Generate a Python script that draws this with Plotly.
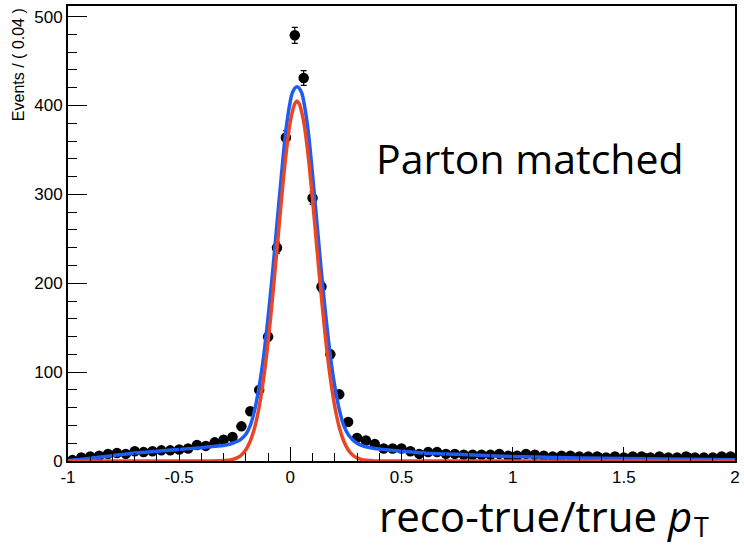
import plotly.graph_objects as go

# ---------------- data ----------------
bin_centers = [round(-0.98 + 0.04 * i, 2) for i in range(75)]
events = [1, 4, 5, 6, 8, 9, 8, 11, 10, 11, 12, 12, 13, 14, 18, 17, 21, 24, 27, 39,
          56, 80, 140, 240, 364, 479, 431, 296, 196, 120, 75, 44, 26, 23, 19, 14, 14, 14, 11, 8,
          10, 10, 8, 8, 7, 7, 7, 7, 8, 6, 6, 8, 7, 6, 5, 6, 6, 5, 5, 5,
          4, 5, 4, 5, 5, 4, 5, 4, 4, 5, 4, 4, 4, 5, 5]
# error bar half-lengths (only the peak ones stick out of the markers)
errors = [0.5, 0.8, 0.9, 1, 1.1, 1.2, 1.1, 1.3, 1.3, 1.3, 1.4, 1.4, 1.4, 1.5, 1.7, 1.6, 1.8, 2, 2.1, 2.5,
          3, 3.6, 4.7, 6.2, 7.6, 9, 8.3, 6.9, 5.6, 4.4, 3.5, 2.6, 2, 1.9, 1.7, 1.5, 1.5, 1.5, 1.3, 1.1,
          1.3, 1.3, 1.1, 1.1, 1, 1, 1, 1, 1.1, 1, 1, 1.1, 1, 1, 0.9, 1, 1, 0.9, 0.9, 0.9,
          0.8, 0.9, 0.8, 0.9, 0.9, 0.8, 0.9, 0.8, 0.8, 0.9, 0.8, 0.8, 0.8, 0.9, 0.9]

# full fit (blue)
blue_x = [-1.0, -0.9, -0.8, -0.7, -0.6, -0.5, -0.4, -0.34, -0.30, -0.28, -0.26, -0.24, -0.22, -0.20,
          -0.18, -0.16, -0.14, -0.12, -0.10, -0.08, -0.06, -0.04, -0.02, 0.0, 0.01, 0.03, 0.05, 0.06,
          0.08, 0.10, 0.12, 0.14, 0.16, 0.18, 0.20, 0.22, 0.24, 0.26, 0.28, 0.30, 0.32, 0.34, 0.38,
          0.42, 0.5, 0.6, 0.7, 0.8, 0.9, 1.0, 1.2, 1.4, 1.6, 1.8, 2.0]
blue_y = [0.5, 3, 6, 9, 11, 13, 15, 16.5, 17.5, 18.5, 20, 22, 25, 30,
          40, 58, 84, 118, 162, 212, 267, 322, 372, 405, 415, 421, 415, 405,
          372, 322, 267, 212, 162, 118, 84, 58, 40, 30, 24, 20, 17.5, 16, 14,
          13, 11, 9, 8, 7, 6, 5, 4, 3, 2.5, 2, 1.5]

# core Gaussian (red)
red_x = [-1.0, -0.5, -0.36, -0.32, -0.28, -0.26, -0.24, -0.22, -0.20, -0.18, -0.16, -0.14, -0.12,
         -0.10, -0.08, -0.06, -0.04, -0.02, 0.0, 0.02, 0.03, 0.04, 0.06, 0.08, 0.10, 0.12, 0.14,
         0.16, 0.18, 0.20, 0.22, 0.24, 0.26, 0.28, 0.30, 0.32, 0.34, 0.38, 0.5, 1.0, 1.5, 2.0]
red_y = [0, 0, 0.1, 0.3, 0.8, 1.7, 3.5, 6.8, 12.7, 22.5, 38, 61, 93,
         134, 184, 238, 294, 344, 382, 402, 405, 402, 382, 344, 294, 238, 184,
         134, 93, 61, 38, 22.5, 12.7, 6.8, 3.5, 1.7, 0.8, 0.1, 0, 0, 0, 0]

x_tick_vals = [-1, -0.5, 0, 0.5, 1, 1.5, 2]
x_tick_text = ["-1", "-0.5", "0", "0.5", "1", "1.5", "2"]
y_tick_vals = [0, 100, 200, 300, 400, 500]
y_tick_text = ["0", "100", "200", "300", "400", "500"]

fig = go.Figure()
fig.add_trace(go.Scatter(
    x=bin_centers, y=events, mode="markers",
    marker=dict(color="black", size=10.5),
    error_y=dict(type="data", array=errors, color="black", thickness=1.2, width=3),
    showlegend=False))
fig.add_trace(go.Scatter(
    x=blue_x, y=blue_y, mode="lines", line=dict(color="#1f5cf2", width=3.5, shape="spline", smoothing=0.8),
    showlegend=False))
fig.add_trace(go.Scatter(
    x=red_x, y=red_y, mode="lines", line=dict(color="#ea4626", width=3.5, shape="spline", smoothing=0.8),
    showlegend=False))

tick_font = dict(family="Liberation Sans, Arial, sans-serif", size=17, color="black")

W, H, L, B = 672, 456, 68, 461  # plot-area geometry in pixels (for placing annotations)

fig.update_layout(
    width=744, height=546,
    margin=dict(l=68, r=4, t=5, b=85),
    paper_bgcolor="white", plot_bgcolor="white",
    xaxis=dict(range=[-1, 2], tickmode="array", tickvals=x_tick_vals, ticktext=x_tick_text,
               ticks="inside", ticklen=14, tickwidth=1, tickcolor="black",
               minor=dict(dtick=0.1, tick0=-1, ticks="inside", ticklen=8, tickcolor="black", tickwidth=1),
               showline=True, linecolor="black", linewidth=2, mirror=True,
               showgrid=False, zeroline=False, tickfont=tick_font),
    yaxis=dict(range=[0, 512], tickmode="array", tickvals=y_tick_vals, ticktext=y_tick_text,
               ticks="inside", ticklen=19, tickwidth=1, tickcolor="black",
               minor=dict(dtick=20, tick0=0, ticks="inside", ticklen=9, tickcolor="black", tickwidth=1),
               showline=True, linecolor="black", linewidth=2, mirror=True,
               showgrid=False, zeroline=False, tickfont=tick_font),
    annotations=[
        dict(text="Events / ( 0.04 )", textangle=-90, xref="paper", yref="paper",
             x=-0.074, y=1.0, xanchor="center", yanchor="top", showarrow=False,
             font=dict(family="Liberation Sans, Arial, sans-serif", size=16, color="black")),
        dict(text="Parton matched", xref="paper", yref="paper",
             x=(376 - L) / W, y=(B - 157) / H, xanchor="left", yanchor="middle", showarrow=False,
             font=dict(family="Open Sans, sans-serif", size=41, color="black")),
        dict(text="reco-true/true <i>p</i>", xref="paper", yref="paper",
             x=(699 - L) / W, y=(B - 516) / H, xanchor="right", yanchor="middle", showarrow=False,
             font=dict(family="Open Sans, sans-serif", size=42, color="black")),
        dict(text="T", xref="paper", yref="paper",
             x=(697 - L) / W, y=(B - 527) / H, xanchor="left", yanchor="middle", showarrow=False,
             font=dict(family="Open Sans, sans-serif", size=27, color="black")),
    ],
)

fig.write_html("out.html")
